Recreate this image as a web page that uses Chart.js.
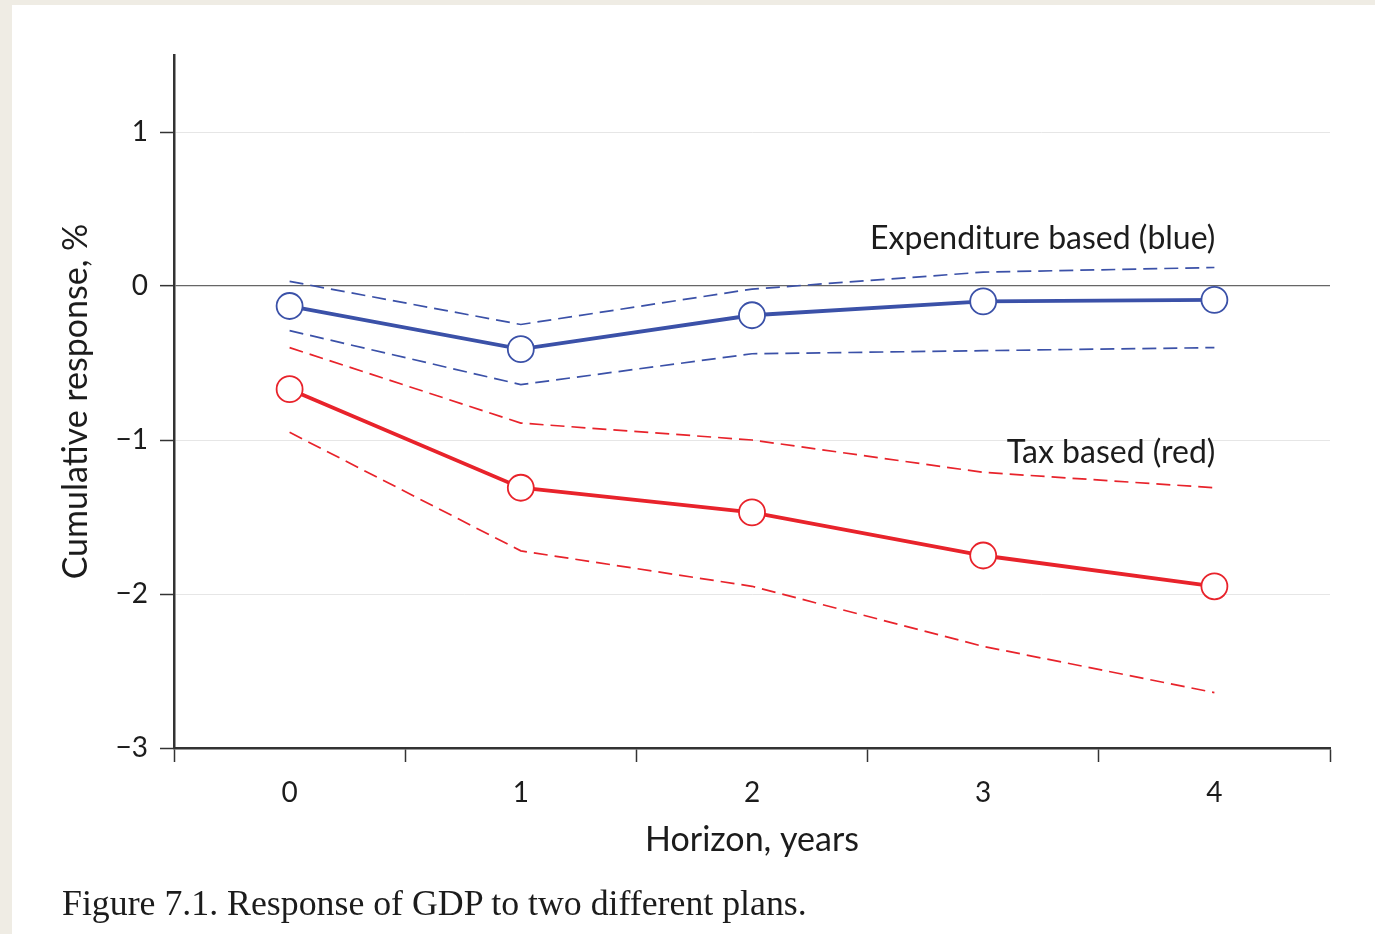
<!DOCTYPE html>
<html>
<head>
<meta charset="utf-8">
<script src="https://cdn.jsdelivr.net/npm/chart.js@4.4.0/dist/chart.umd.min.js"></script>
<style>
  html, body { margin: 0; padding: 0; background: #efece4; }
  #panel { position: absolute; left: 12px; top: 5px; width: 1363px; height: 929px; background: #ffffff; }
  #wrap { position: absolute; left: 0; top: 0; width: 1375px; height: 934px; }
  #caption { position: absolute; left: 62px; top: 882px; font-family: "Liberation Serif", serif; font-size: 35.8px; color: #1c1c1c; white-space: nowrap; }
</style>
</head>
<body>
<div id="panel"></div>
<div id="wrap"><canvas id="myChart"></canvas></div>
<div id="caption">Figure 7.1. Response of GDP to two different plans.</div>
<script>
// horizonte en años
var horizonte = ['0', '1', '2', '3', '4'];

// respuesta del PIB, plan basado en gasto (azul)
var gastoCentral = [-0.13, -0.41, -0.19, -0.10, -0.09];
var gastoSuperior = [0.03, -0.25, -0.02, 0.09, 0.12];
var gastoInferior = [-0.29, -0.64, -0.44, -0.42, -0.40];

// respuesta del PIB, plan basado en impuestos (rojo)
var impuestoCentral = [-0.67, -1.31, -1.47, -1.75, -1.95];
var impuestoSuperior = [-0.40, -0.89, -1.00, -1.21, -1.31];
var impuestoInferior = [-0.95, -1.72, -1.95, -2.34, -2.64];

// etiquetas dentro del grafico: texto, categoria y valor donde se anclan
var etiquetas = ['Expenditure based (blue)', 'Tax based (red)'];
var etiquetasX = ['4', '4'];
var etiquetasY = [0.31, -1.08];

var azul = '#3b51a8';
var rojo = '#e8232b';
var fuente = 'Lato, "Open Sans", sans-serif';

function banda(datos, color) {
    return {
        data: datos,
        borderColor: color,
        borderWidth: 1.7,
        borderDash: [14, 7],
        pointRadius: 0,
        fill: false,
        tension: 0
    };
}

function central(datos, color) {
    return {
        data: datos,
        borderColor: color,
        borderWidth: 3.8,
        pointRadius: 13,
        pointBorderWidth: 1.8,
        pointBackgroundColor: '#ffffff',
        pointBorderColor: color,
        fill: false,
        tension: 0
    };
}

// plugin para escribir los textos de las series
var textos = {
    id: 'textos',
    afterDatasetsDraw: function(chart) {
        var ctx = chart.ctx;
        var x = chart.scales.x, y = chart.scales.y;
        ctx.save();
        ctx.font = '32px ' + fuente;
        ctx.fillStyle = '#1c1c1c';
        ctx.textAlign = 'right';
        ctx.textBaseline = 'middle';
        for (var i = 0; i < etiquetas.length; i++) {
            ctx.fillText(etiquetas[i], x.getPixelForValue(horizonte.indexOf(etiquetasX[i])) + 1, y.getPixelForValue(etiquetasY[i]));
        }
        ctx.restore();
    }
};

var ctx = document.getElementById('myChart').getContext('2d');
var chart = new Chart(ctx, {
    type: 'line',
    data: {
        labels: horizonte,
        datasets: [
            banda(gastoSuperior, azul),
            banda(gastoInferior, azul),
            banda(impuestoSuperior, rojo),
            banda(impuestoInferior, rojo),
            central(gastoCentral, azul),
            central(impuestoCentral, rojo)
        ]
    },
    plugins: [textos],
    options: {
        responsive: true,
        maintainAspectRatio: false,
        animation: false,
        layout: { padding: { left: 0, top: 55, right: 45, bottom: 66 } },
        plugins: { legend: { display: false }, tooltip: { enabled: false } },
        scales: {
            x: {
                type: 'category',
                offset: true,
                afterFit: function(s) { s.height = 120; },
                grid: { offset: true, drawOnChartArea: false, tickLength: 14, tickColor: '#333', tickWidth: 1.5 },
                border: { color: '#333', width: 2.5 },
                ticks: { color: '#1c1c1c', font: { family: fuente, size: 28 }, padding: 14, maxRotation: 0 },
                title: { display: true, text: 'Horizon, years', color: '#1c1c1c', font: { family: fuente, size: 34 }, padding: { top: 0, bottom: 8 } }
            },
            y: {
                min: -3,
                max: 1.5,
                bounds: 'data',
                afterFit: function(s) { s.width = 174; },
                grid: {
                    color: function(c) { return c.tick && c.tick.value === 0 ? '#666' : '#e6e6e6'; },
                    lineWidth: function(c) { return c.tick && c.tick.value === 0 ? 1.3 : 1; },
                    tickLength: 14,
                    tickColor: '#333',
                    tickWidth: 1.5
                },
                border: { color: '#333', width: 2.5 },
                ticks: {
                    stepSize: 1,
                    includeBounds: false,
                    padding: 12,
                    color: '#1c1c1c',
                    font: { family: fuente, size: 28 },
                    callback: function(v) { return v < 0 ? '\u2212' + Math.abs(v) : '' + v; }
                },
                title: { display: true, text: 'Cumulative response, %', color: '#1c1c1c', font: { family: fuente, size: 34 }, padding: { top: 56, bottom: 0 } }
            }
        }
    }
});
</script>
</body>
</html>
